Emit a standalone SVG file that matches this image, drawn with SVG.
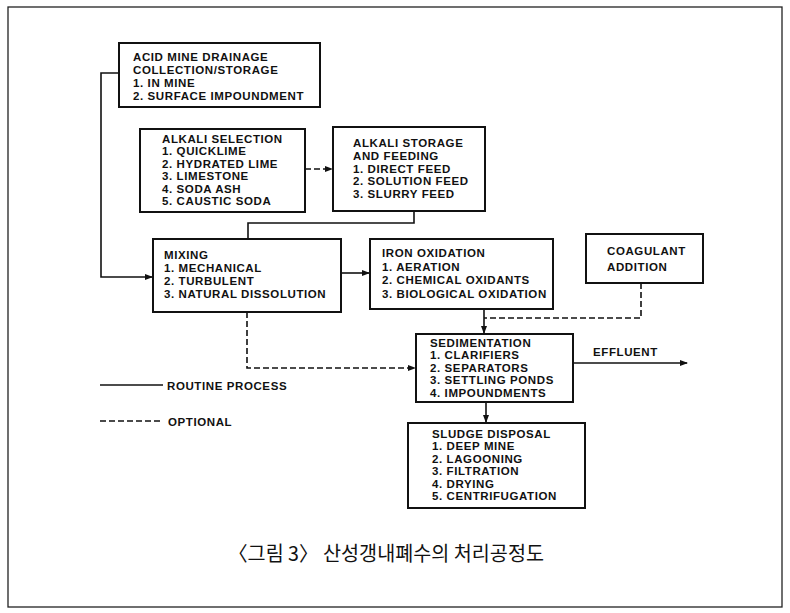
<svg xmlns="http://www.w3.org/2000/svg" width="790" height="613" viewBox="0 0 790 613">
<style>
.box{fill:#fff;stroke:#111;stroke-width:2}
.t{font-family:"Liberation Sans",Arial,sans-serif;font-weight:bold;font-size:11.5px;letter-spacing:0.6px;fill:#111}
.c{fill:none;stroke:#111;stroke-width:1.6}
.d{fill:none;stroke:#111;stroke-width:1.6;stroke-dasharray:6 3}
.cap{font-family:"Noto Sans CJK KR","Noto Sans",sans-serif;font-size:20px;fill:#111}
</style>
<defs>
<marker id="a" markerWidth="8" markerHeight="6" refX="7" refY="3" orient="auto" markerUnits="userSpaceOnUse">
<path d="M0,0 L8,3 L0,6 Z" fill="#111"/>
</marker>
</defs>
<rect x="0" y="0" width="790" height="613" fill="#fff"/>
<rect x="8" y="7" width="774" height="600" fill="none" stroke="#222" stroke-width="1.3"/>

<g id="connectors">
<polyline class="c" points="119,73 101,73 101,277 152,277" marker-end="url(#a)"/>
<polyline class="d" points="305,169 332,169" marker-end="url(#a)"/>
<polyline class="c" points="414,211 414,223 248,223 248,239"/>
<polyline class="c" points="341,273 369,273" marker-end="url(#a)"/>
<polyline class="d" points="247,312 247,368 415,368" marker-end="url(#a)"/>
<polyline class="c" points="484,309 484,333" marker-end="url(#a)"/>
<polyline class="d" points="641,283 641,318 484,318"/>
<polyline class="c" points="573,363 687,363" marker-end="url(#a)"/>
<polyline class="c" points="486,402 486,422" marker-end="url(#a)"/>
</g>

<g id="acid">
<rect class="box" x="119" y="43" width="201" height="64"/>
<text class="t" x="133" y="61">ACID MINE DRAINAGE</text>
<text class="t" x="133" y="74">COLLECTION/STORAGE</text>
<text class="t" x="133" y="87">1. IN MINE</text>
<text class="t" x="133" y="100">2. SURFACE IMPOUNDMENT</text>
</g>

<g id="alkali-selection">
<rect class="box" x="140" y="129" width="165" height="83"/>
<text class="t" x="162" y="142.5">ALKALI SELECTION</text>
<text class="t" x="162" y="155">1. QUICKLIME</text>
<text class="t" x="162" y="167.5">2. HYDRATED LIME</text>
<text class="t" x="162" y="180">3. LIMESTONE</text>
<text class="t" x="162" y="192.5">4. SODA ASH</text>
<text class="t" x="162" y="205">5. CAUSTIC SODA</text>
</g>

<g id="alkali-storage">
<rect class="box" x="333" y="127" width="152" height="84"/>
<text class="t" x="353" y="147">ALKALI STORAGE</text>
<text class="t" x="353" y="159.5">AND FEEDING</text>
<text class="t" x="353" y="172.5">1. DIRECT FEED</text>
<text class="t" x="353" y="185">2. SOLUTION FEED</text>
<text class="t" x="353" y="198">3. SLURRY FEED</text>
</g>

<g id="mixing">
<rect class="box" x="153" y="239" width="188" height="73"/>
<text class="t" x="164" y="259">MIXING</text>
<text class="t" x="164" y="272">1. MECHANICAL</text>
<text class="t" x="164" y="285">2. TURBULENT</text>
<text class="t" x="164" y="298">3. NATURAL DISSOLUTION</text>
</g>

<g id="iron">
<rect class="box" x="370" y="239" width="183" height="70"/>
<text class="t" x="382" y="257">IRON OXIDATION</text>
<text class="t" x="382" y="270.5">1. AERATION</text>
<text class="t" x="382" y="284">2. CHEMICAL OXIDANTS</text>
<text class="t" x="382" y="297.5">3. BIOLOGICAL OXIDATION</text>
</g>

<g id="coagulant">
<rect class="box" x="586" y="234" width="117" height="49"/>
<text class="t" x="607" y="255">COAGULANT</text>
<text class="t" x="607" y="271">ADDITION</text>
</g>

<g id="sedimentation">
<rect class="box" x="416" y="334" width="157" height="68"/>
<text class="t" x="430" y="346.5">SEDIMENTATION</text>
<text class="t" x="430" y="359">1. CLARIFIERS</text>
<text class="t" x="430" y="371.5">2. SEPARATORS</text>
<text class="t" x="430" y="384">3. SETTLING PONDS</text>
<text class="t" x="430" y="396.5">4. IMPOUNDMENTS</text>
</g>
<text class="t" x="593" y="356">EFFLUENT</text>

<g id="sludge">
<rect class="box" x="408" y="423" width="177" height="85"/>
<text class="t" x="432" y="437.5">SLUDGE DISPOSAL</text>
<text class="t" x="432" y="450">1. DEEP MINE</text>
<text class="t" x="432" y="462.5">2. LAGOONING</text>
<text class="t" x="432" y="475">3. FILTRATION</text>
<text class="t" x="432" y="487.5">4. DRYING</text>
<text class="t" x="432" y="500">5. CENTRIFUGATION</text>
</g>

<g id="legend">
<line class="c" x1="100" y1="385" x2="163" y2="385"/>
<text class="t" x="167" y="390">ROUTINE PROCESS</text>
<line class="d" x1="100" y1="421" x2="161" y2="421"/>
<text class="t" x="168" y="426">OPTIONAL</text>
</g>

<text class="cap" x="228" y="561" textLength="316" lengthAdjust="spacingAndGlyphs">〈그림 3〉 산성갱내폐수의 처리공정도</text>
</svg>
